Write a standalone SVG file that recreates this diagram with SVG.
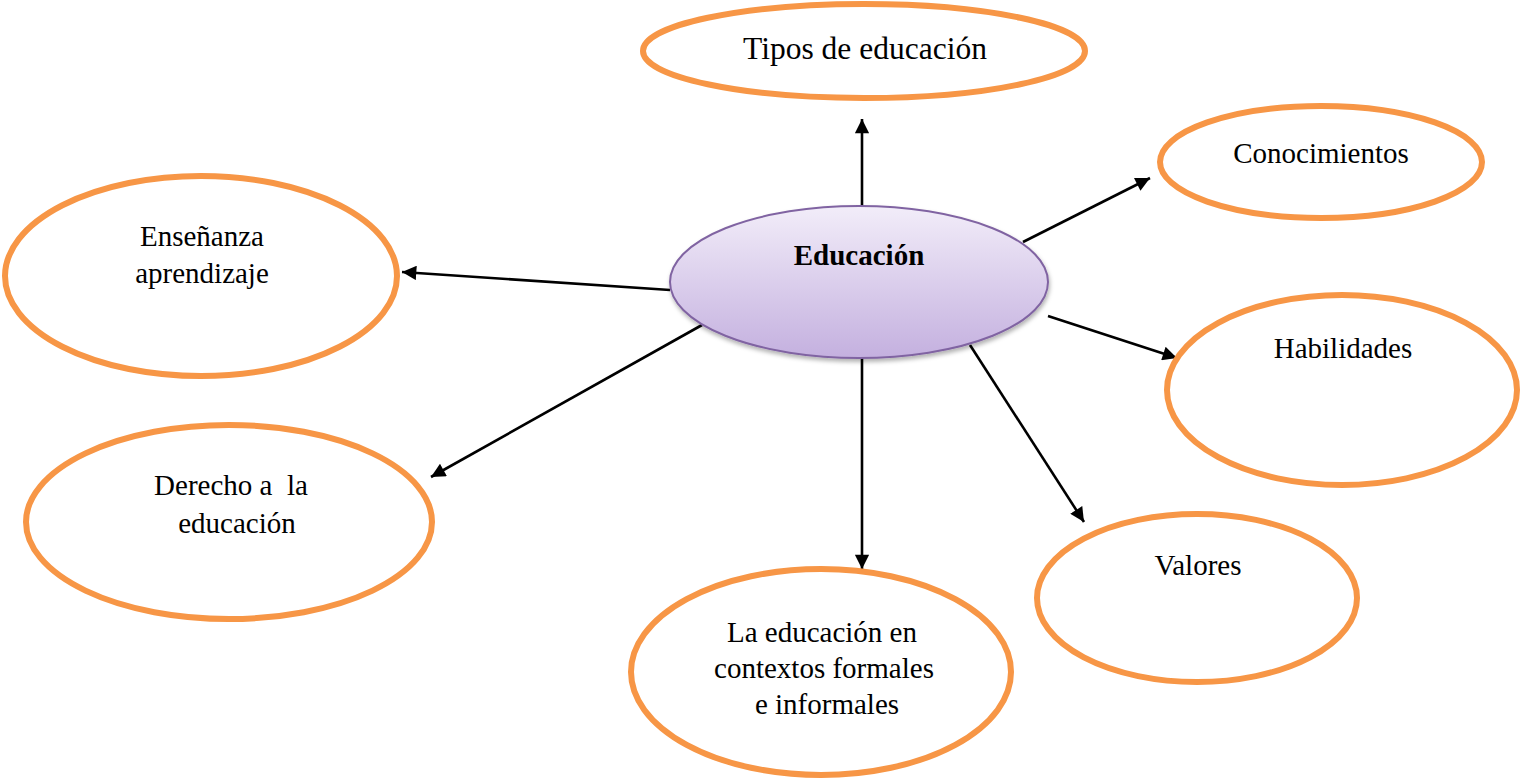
<svg xmlns="http://www.w3.org/2000/svg" width="1521" height="779" viewBox="0 0 1521 779">
<defs>
<linearGradient id="g" x1="0" y1="0" x2="0" y2="1">
<stop offset="0" stop-color="#F2EDF9"/>
<stop offset="1" stop-color="#C4B0DF"/>
</linearGradient>
<filter id="sh" x="-10%" y="-10%" width="120%" height="130%">
<feDropShadow dx="1" dy="3" stdDeviation="2" flood-color="#000" flood-opacity="0.3"/>
</filter>
<marker id="ah" viewBox="0 0 10 10" refX="10" refY="5" markerWidth="5.8" markerHeight="5.5" markerUnits="strokeWidth" orient="auto">
<path d="M0,0 L10,5 L0,10 z" fill="#000"/>
</marker>
<style>
.o{fill:#fff;stroke:#F79646;stroke-width:6}
.t{font-family:"Liberation Serif","Times New Roman",serif;font-size:29px;fill:#000;text-anchor:middle}
.big{font-size:31.5px}
.b{font-weight:bold}
.c{fill:none;stroke:#000;stroke-width:2.6;marker-end:url(#ah)}
</style>
</defs>
<rect width="1521" height="779" fill="#fff"/>
<g id="connectors">
<line class="c" x1="862" y1="206" x2="862" y2="119"/>
<line class="c" x1="1023" y1="242" x2="1150" y2="178"/>
<line class="c" x1="1048" y1="316" x2="1177" y2="358"/>
<line class="c" x1="970" y1="345" x2="1084" y2="522"/>
<line class="c" x1="862" y1="358" x2="862" y2="569"/>
<line class="c" x1="702" y1="325" x2="431" y2="477"/>
<line class="c" x1="670" y1="290" x2="402" y2="272"/>
</g>
<g id="center">
<ellipse cx="859" cy="282" rx="189" ry="76" fill="url(#g)" stroke="#8064A2" stroke-width="2" filter="url(#sh)"/>
<text class="t b" x="859" y="265">Educación</text>
</g>
<g id="tipos">
<ellipse class="o" cx="864" cy="51" rx="221" ry="47"/>
<text class="t big" x="865" y="59">Tipos de educación</text>
</g>
<g id="conocimientos">
<ellipse class="o" cx="1321" cy="162" rx="161" ry="56"/>
<text class="t" x="1321" y="163">Conocimientos</text>
</g>
<g id="habilidades">
<ellipse class="o" cx="1342" cy="390" rx="175" ry="95"/>
<text class="t" x="1343" y="358">Habilidades</text>
</g>
<g id="valores">
<ellipse class="o" cx="1197" cy="598" rx="160" ry="84"/>
<text class="t" x="1198" y="575">Valores</text>
</g>
<g id="contextos">
<ellipse class="o" cx="821" cy="672" rx="190" ry="103"/>
<text class="t" x="822" y="642">La educación en</text>
<text class="t" x="824" y="678">contextos formales</text>
<text class="t" x="827" y="714">e informales</text>
</g>
<g id="derecho">
<ellipse class="o" cx="229" cy="522" rx="203" ry="97"/>
<text class="t" x="231" y="495" xml:space="preserve" style="white-space:pre">Derecho a  la</text>
<text class="t" x="237" y="533">educación</text>
</g>
<g id="ensenanza">
<ellipse class="o" cx="201" cy="276" rx="196" ry="100"/>
<text class="t" x="202" y="246">Enseñanza</text>
<text class="t" x="202" y="283">aprendizaje</text>
</g>
</svg>
